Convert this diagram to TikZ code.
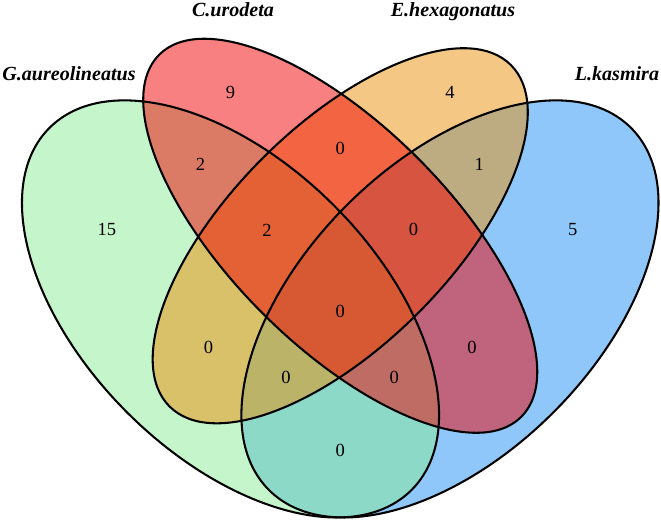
\documentclass[tikz,border=0pt]{standalone}
\usepackage{fontspec}
\setmainfont{Liberation Serif}
\definecolor{gset}{RGB}{139,235,151}
\definecolor{rset}{RGB}{241,2,2}
\definecolor{oset}{RGB}{235,143,9}
\definecolor{bset}{RGB}{31,143,245}

\begin{document}
\begin{tikzpicture}[
  x=15cm, y=15cm,
  blob/.style ={fill=#1, fill opacity=0.5, draw=none},
  rim/.style  ={draw=black, line width=1.2pt},
  num/.style  ={font=\fontsize{10.8}{13}\selectfont, inner sep=0pt},
  title/.style={font=\fontsize{11.7}{14}\selectfont\bfseries\itshape,
                anchor=base, inner sep=0pt},
]
\useasboundingbox (0.0349,0.1814) rectangle (0.9385,0.8923);

% ============================ the four sets =================================
\coordinate (cb) at (0.65,0.47);
\coordinate (cg) at (0.35,0.47);
\coordinate (co) at (0.50,0.57);
\coordinate (cr) at (0.50,0.57);

% fills first: blue at the bottom of the stack, red on top
\foreach \s/\col/\a/\b/\r in {cb/bset/0.35/0.20/45, cg/gset/0.35/0.20/-45,
                               co/oset/0.33/0.15/45, cr/rset/0.35/0.15/-45} {
  \path[blob=\col, rotate around={\r:(\s)}] (\s) ellipse [x radius=\a, y radius=\b];
}
% then every outline over all of the fills
\foreach \s/\a/\b/\r in {cb/0.35/0.20/45, cg/0.35/0.20/-45,
                         co/0.33/0.15/45, cr/0.35/0.15/-45} {
  \draw[rim, rotate around={\r:(\s)}] (\s) ellipse [x radius=\a, y radius=\b];
}

% ============================ set names =====================================
\node[title] (ng) at (0.1292,0.7816) {G.aureolineatus};
\node[title] (nr) at (0.3534,0.8697) {C.urodeta};
\node[title] (no) at (0.6541,0.8697) {E.hexagonatus};
\node[title] (nb) at (0.8783,0.7816) {L.kasmira};

% ============================ region counts =================================
\foreach \n/\x/\y/\v in {r/0.350/0.766/9,     o/0.650/0.766/4,
                         ro/0.500/0.689/0,    gr/0.309/0.667/2,
                         ob/0.690/0.667/1,    g/0.181/0.578/15,
                         gro/0.400/0.578/2,   rob/0.600/0.578/0,
                         b/0.818/0.578/5,     all/0.500/0.467/0,
                         go/0.320/0.418/0,    rb/0.680/0.418/0,
                         gob/0.426/0.377/0,   grb/0.574/0.377/0,
                         gb/0.500/0.277/0} {
  \node[num] (k\n) at (\x,\y) {\v};
}
\end{tikzpicture}
\end{document}
